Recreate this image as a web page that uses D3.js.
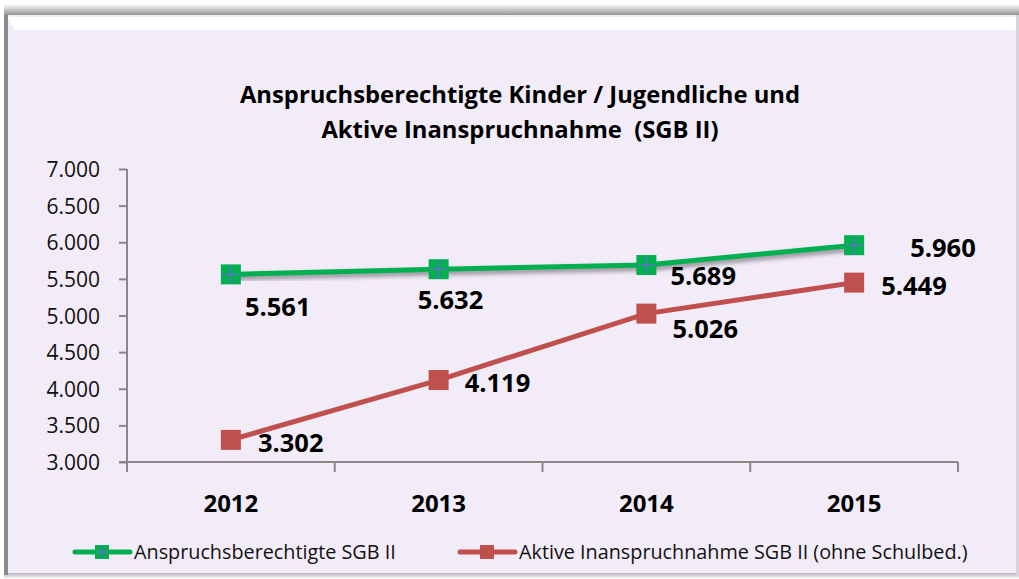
<!DOCTYPE html>
<html><head><meta charset="utf-8">
<script src="https://cdn.jsdelivr.net/npm/d3@7"></script>
<style>body{margin:0;background:#fff;} svg{display:block;}</style>
</head><body>
<svg id="c" width="1019" height="579"></svg>
<script>
const years = ["2012","2013","2014","2015"];
const berechtigt = [5561, 5632, 5689, 5960];
const aktiv = [3302, 4119, 5026, 5449];
const yTicks = [3000,3500,4000,4500,5000,5500,6000,6500,7000];
const seriesNames = ["Anspruchsberechtigte SGB II","Aktive Inanspruchnahme SGB II (ohne Schulbed.)"];
const titleLines = ["Anspruchsberechtigte Kinder / Jugendliche und","Aktive Inanspruchnahme  (SGB II)"];

// label offsets (layout, not data)
const greenOff = [[14,42],[-21,40],[24,20],[56,12]];
const redOff = [[27,12],[26,12],[26,24],[27,12]];

const fmt = d => { const s = String(d); return s.slice(0, s.length-3) + "." + s.slice(-3); };

const svg = d3.select("#c");
const defs = svg.append("defs");
const g1 = defs.append("linearGradient").attr("id","topsh").attr("x1",0).attr("y1",0).attr("x2",0).attr("y2",1);
g1.append("stop").attr("offset","0").attr("stop-color","#fff");
g1.append("stop").attr("offset","1").attr("stop-color","#8a8a8a");
const g2 = defs.append("linearGradient").attr("id","botsh").attr("x1",0).attr("y1",0).attr("x2",0).attr("y2",1);
g2.append("stop").attr("offset","0").attr("stop-color","#b8b4be");
g2.append("stop").attr("offset","1").attr("stop-color","#fff");
defs.append("filter").attr("id","blur").append("feGaussianBlur").attr("stdDeviation",2);

// frame
svg.append("rect").attr("x",4).attr("y",4).attr("width",1015).attr("height",12).attr("fill","url(#topsh)");
svg.append("rect").attr("x",4).attr("y",15).attr("width",1013).attr("height",560).attr("fill","#f2ecf8");
svg.append("rect").attr("x",4).attr("y",573).attr("width",1015).attr("height",6).attr("fill","url(#botsh)");
svg.append("rect").attr("x",4).attr("y",15).attr("width",4).attr("height",560).attr("fill","#8c8c8c");
svg.append("path").attr("d","M8,17 L1017,17 L1017,30 L14,30 Z").attr("fill","#ffffff");
svg.append("rect").attr("x",1016).attr("y",15).attr("width",3).attr("height",560).attr("fill","#d8d4dc");

const font = "'Open Sans', 'Noto Sans', sans-serif";

// title
svg.append("g").selectAll("text").data(titleLines).join("text")
  .attr("x",520).attr("y",(d,i)=>103+i*35).attr("text-anchor","middle")
  .style("white-space","pre")
  .attr("font-family",font).attr("font-weight","bold").attr("font-size",23.8)
  .attr("fill","#000").text(d=>d);

const x = d3.scaleBand().domain(years).range([127,958]);
const y = d3.scaleLinear().domain([3000,7000]).range([462,169]);
const cx = d => x(d)+x.bandwidth()/2;

// y axis
const ya = svg.append("g").attr("transform","translate(127,0)")
  .call(d3.axisLeft(y).tickValues(yTicks).tickSize(8).tickPadding(19).tickFormat(fmt));
ya.selectAll("text").attr("font-family",font).attr("font-size",21).attr("fill","#111").attr("dy","0.36em");
ya.selectAll("line").attr("stroke","#888").attr("stroke-width",2);
ya.select(".domain").attr("stroke","#888").attr("stroke-width",2).attr("d","M0,169V462");

// x axis
const xa = svg.append("g").attr("transform","translate(0,462)");
xa.append("line").attr("x1",119).attr("x2",958).attr("y1",0).attr("y2",0).attr("stroke","#888").attr("stroke-width",2);
const bounds = years.map(d=>x(d)).concat([x(years[years.length-1])+x.bandwidth()]);
xa.selectAll("line.t").data(bounds).join("line").attr("class","t")
  .attr("x1",d=>d).attr("x2",d=>d).attr("y1",0).attr("y2",10).attr("stroke","#888").attr("stroke-width",2);
xa.selectAll("text").data(years).join("text")
  .attr("x",d=>cx(d)).attr("y",50).attr("text-anchor","middle")
  .attr("font-family",font).attr("font-weight","bold").attr("font-size",24).attr("fill","#000").text(d=>d);

const line = d3.line().x((d,i)=>cx(years[i])).y(d=>y(d));

// green shadow
svg.append("path").datum(berechtigt).attr("d",line).attr("transform","translate(2,3)")
  .attr("fill","none").attr("stroke","#9a96a0").attr("stroke-width",6).attr("filter","url(#blur)");
// series
svg.append("path").datum(berechtigt).attr("d",line).attr("fill","none").attr("stroke","#00b050").attr("stroke-width",5);
svg.append("path").datum(aktiv).attr("d",line).attr("fill","none").attr("stroke","#c0504d").attr("stroke-width",5);

function markers(data, color, plus){
  const gm = svg.append("g");
  gm.selectAll("rect").data(data).join("rect")
    .attr("x",(d,i)=>cx(years[i])-10).attr("y",d=>y(d)-10).attr("width",20).attr("height",20).attr("fill",color);
  if(plus){
    gm.selectAll("path").data(data).join("path")
      .attr("d",(d,i)=>{const px=cx(years[i]),py=y(d);return `M${px-9},${py}H${px+9}M${px},${py-9}V${py+9}`;})
      .attr("stroke","#5b74c4").attr("stroke-width",1.5);
  }
}
markers(berechtigt,"#00b050",true);
markers(aktiv,"#c0504d",false);

function labels(data, off){
  svg.append("g").selectAll("text").data(data).join("text")
    .attr("x",(d,i)=>cx(years[i])+off[i][0]).attr("y",(d,i)=>y(d)+off[i][1])
    .attr("font-family",font).attr("font-weight","bold").attr("font-size",25.5).attr("fill","#000")
    .text(fmt);
}
labels(berechtigt, greenOff);
labels(aktiv, redOff);

// legend
const leg = [{x:75,c:"#00b050",plus:true},{x:460,c:"#c0504d",plus:false}];
leg.forEach((l,i)=>{
  const lg = svg.append("g");
  lg.append("line").attr("x1",l.x).attr("x2",l.x+55).attr("y1",552).attr("y2",552).attr("stroke",l.c).attr("stroke-width",5).attr("stroke-linecap","round");
  lg.append("rect").attr("x",l.x+20).attr("y",545).attr("width",14).attr("height",14).attr("fill",l.c);
  if(l.plus) lg.append("path").attr("d",`M${l.x+21},552H${l.x+33}M${l.x+27},546V558`).attr("stroke","#5b74c4").attr("stroke-width",1.5);
  lg.append("text").attr("x",l.x+59).attr("y",559).attr("font-family",font).attr("font-size",19.8).attr("fill","#111").text(seriesNames[i]);
});
</script>
</body></html>
